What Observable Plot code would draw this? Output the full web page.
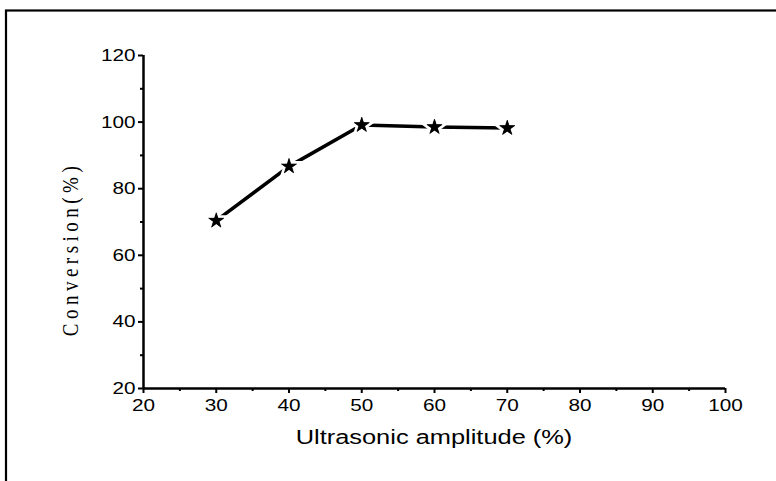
<!DOCTYPE html>
<html>
<head>
<meta charset="utf-8">
<script src="https://cdn.jsdelivr.net/npm/d3@7"></script>
<script src="https://cdn.jsdelivr.net/npm/@observablehq/plot@0.6"></script>
<style>
  html, body { margin: 0; padding: 0; background: #fff; }
</style>
</head>
<body>
<div id="chart"></div>
<script>
const amplitude = [30, 40, 50, 60, 70];
const conversion = [70.4, 86.7, 99.1, 98.5, 98.2];
const xMajorTicks = [20, 30, 40, 50, 60, 70, 80, 90, 100];
const xMinorTicks = [25, 35, 45, 55, 65, 75, 85, 95];
const yMajorTicks = [20, 40, 60, 80, 100, 120];
const yMinorTicks = [30, 50, 70, 90, 110];
const xLabel = "Ultrasonic amplitude (%)";
const yLabel = "Conversion(%)";

const data = amplitude.map((a, i) => ({amplitude: a, conversion: conversion[i]}));

const plot = Plot.plot({
  width: 776,
  height: 481,
  marginLeft: 143,
  marginRight: 51,
  marginTop: 55,
  marginBottom: 93,
  style: {fontFamily: "'Liberation Sans', Arial, sans-serif", fontSize: "17px", color: "#000", background: "#fff"},
  x: {domain: [20, 100]},
  y: {domain: [20, 120]},
  marks: [
    Plot.axisX({ticks: xMajorTicks, tickSize: 5, tickPadding: 5, strokeWidth: 2, label: null, fontSize: 17}),
    Plot.axisX({ticks: xMinorTicks, tickSize: 3, strokeWidth: 2, text: null, label: null}),
    Plot.axisY({ticks: yMajorTicks, tickSize: 5, tickPadding: 3, strokeWidth: 2, label: null, fontSize: 17}),
    Plot.axisY({ticks: yMinorTicks, tickSize: 3, strokeWidth: 2, text: null, label: null}),
    Plot.ruleY([20], {stroke: "#000", strokeWidth: 2.5}),
    Plot.ruleX([20], {stroke: "#000", strokeWidth: 2.5}),
    Plot.line(data, {x: "amplitude", y: "conversion", stroke: "#000", strokeWidth: 3.5}),
    Plot.dot(data, {x: "amplitude", y: "conversion", symbol: "star", r: 4.8, fill: "#000", stroke: "#fff", strokeWidth: 6, paintOrder: "stroke"}),
    Plot.dot(data, {x: "amplitude", y: "conversion", symbol: "star", r: 4.8, fill: "#000", stroke: "#000", strokeWidth: 0.5})
  ]
});

const svg = d3.select(plot);
svg.selectAll("text").attr("font-size", 17).each(function() {
  const t = this.getAttribute("transform") || "";
  this.setAttribute("transform", t + " scale(1.22,1)");
});
svg.insert("rect", ":first-child")
  .attr("x", 6).attr("y", 10.5).attr("width", 900).attr("height", 600)
  .attr("fill", "none").attr("stroke", "#000").attr("stroke-width", 2.2);

const xs = plot.scale("x");
svg.append("text")
  .attr("transform", `translate(${xs.apply(60)},444) scale(1.27,1)`)
  .attr("text-anchor", "middle")
  .attr("font-family", "'Liberation Sans', Arial, sans-serif")
  .attr("font-size", 20)
  .attr("fill", "#000")
  .text(xLabel);

svg.append("text")
  .attr("transform", "translate(78,249) rotate(-90) scale(1,1.2)")
  .attr("text-anchor", "middle")
  .attr("font-family", "'Liberation Serif', 'Times New Roman', serif")
  .attr("font-size", 19)
  .attr("letter-spacing", 4.5)
  .attr("fill", "#000")
  .text(yLabel);

document.getElementById("chart").appendChild(plot);
</script>
</body>
</html>
